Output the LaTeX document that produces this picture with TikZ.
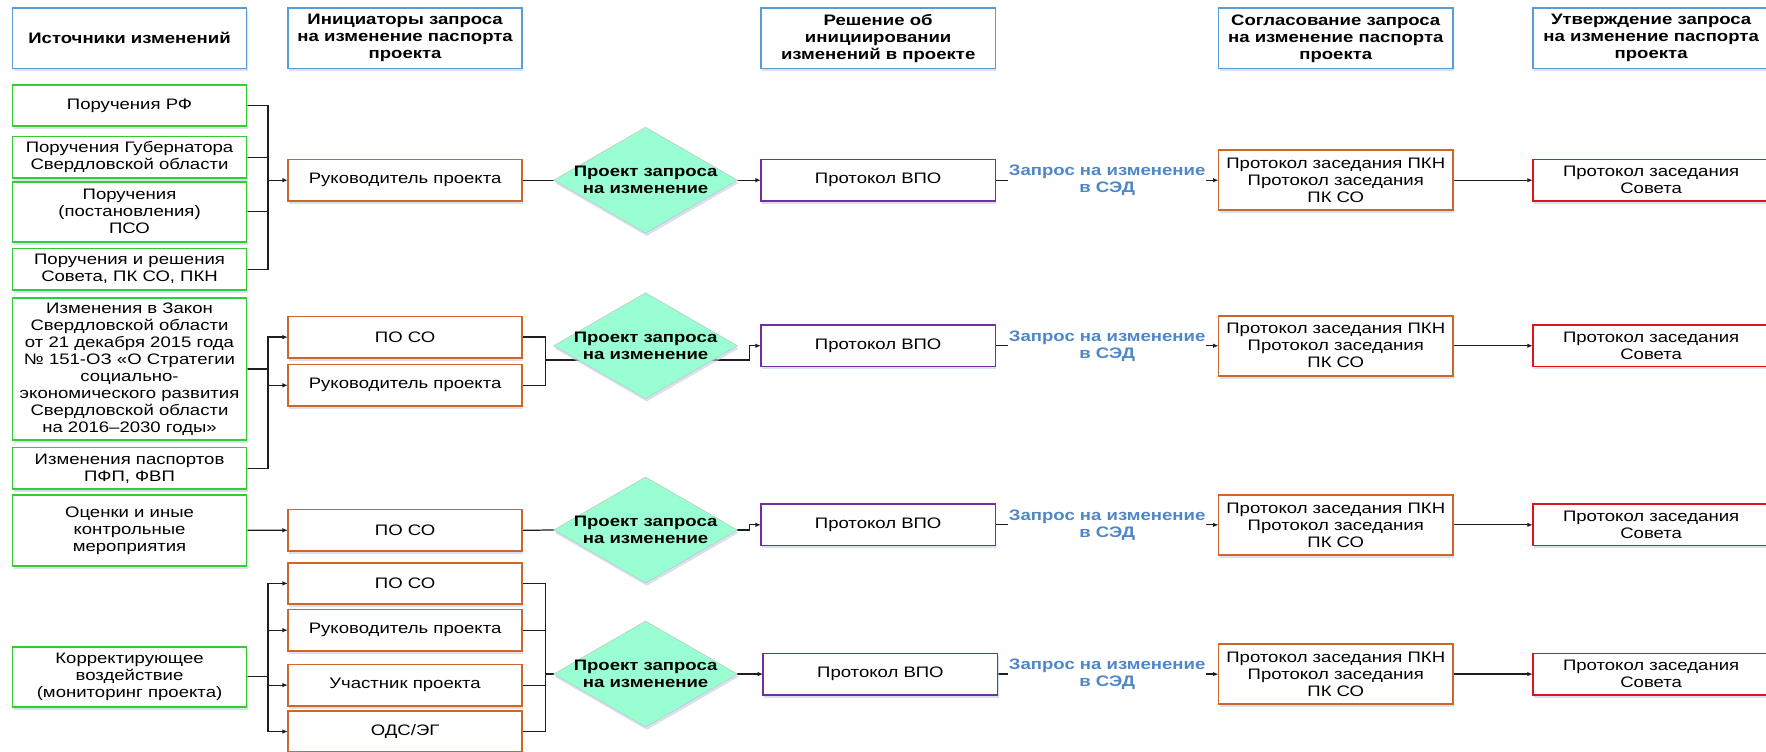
\documentclass[tikz,border=0pt]{standalone}
\usepackage{fontspec}
\setmainfont[FakeStretch=1.22]{Liberation Sans}
\usetikzlibrary{arrows.meta,shapes.geometric,backgrounds,shadows}

\definecolor{hdrblue}{RGB}{91,155,213}
\definecolor{srcgreen}{RGB}{51,204,51}
\definecolor{iniorange}{RGB}{204,102,41}
\definecolor{vpopurple}{RGB}{112,48,160}
\definecolor{sovred}{RGB}{220,20,30}
\definecolor{dmint}{RGB}{153,255,210}
\definecolor{dborder}{RGB}{190,205,198}
\definecolor{lblblue}{RGB}{79,134,198}
\definecolor{connc}{RGB}{30,30,30}
\definecolor{shadowc}{RGB}{190,205,230}

\begin{document}
\begin{tikzpicture}[x=1pt,y=-1pt,
  every node/.style={font=\fontsize{13.5}{15.1}\selectfont, align=center, inner sep=1pt, outer sep=0pt},
  shad/.style={drop shadow={shadow xshift=1pt, shadow yshift=-2.5pt, fill=shadowc, opacity=0.6}},
  boxbase/.style={draw, fill=white, line width=1.4pt, minimum width=208pt, minimum height=36.7pt, shad},
  hdr/.style={boxbase, draw=hdrblue, minimum height=53.3pt, font=\fontsize{13.5}{15.1}\selectfont\bfseries},
  src/.style={boxbase, draw=srcgreen},
  ini/.style={boxbase, draw=iniorange},
  vpo/.style={boxbase, draw=vpopurple},
  kom/.style={boxbase, draw=iniorange, minimum height=53.3pt},
  sov/.style={boxbase, draw=sovred, minimum width=210pt},
  dia/.style={diamond, fill=dmint, draw=dborder, line width=0.6pt, minimum width=163pt, minimum height=94pt, inner sep=0pt, shad},
  dlab/.style={font=\fontsize{13.5}{15.1}\selectfont\bfseries, align=center},
  req/.style={font=\fontsize{13.5}{15.1}\selectfont\bfseries, text=lblblue, inner sep=1pt},
  conn/.style={draw=connc, line width=1.1pt},
  arr/.style={conn, -{Latex[length=5pt,width=4pt]}},
]
\useasboundingbox (0,0) rectangle (1568,667);

% headers
\node[hdr] (h1) at (115,34) {Источники изменений};
\node[hdr] (h2) at (359.7,34) {Инициаторы запроса\\на изменение паспорта\\проекта};
\node[hdr] (h3) at (779.7,34) {Решение об\\инициировании\\изменений в проекте};
\node[hdr] (h4) at (1186,34) {Согласование запроса\\на изменение паспорта\\проекта};
\node[hdr, minimum width=210pt] (h5) at (1466,34) {Утверждение запроса\\на изменение паспорта\\проекта};

% sources
\node[src] (s1) at (115,93.7) {Поручения РФ};
\node[src] (s2) at (115,139.6) {Поручения Губернатора\\Свердловской области};
\node[src, minimum height=53.3pt] (s3) at (115,188) {Поручения\\(постановления)\\ПСО};
\node[src] (s4) at (115,239) {Поручения и решения\\Совета, ПК СО, ПКН};
\node[src, minimum height=126.4pt] (s5) at (115,327.6) {Изменения в Закон\\Свердловской области\\от 21 декабря 2015 года\\№ 151-ОЗ «О Стратегии\\социально-\\экономического развития\\Свердловской области\\на 2016–2030 годы»};
\node[src] (s6) at (115,415.8) {Изменения паспортов\\ПФП, ФВП};
\node[src, minimum height=62.8pt] (s7) at (115,470.9) {Оценки и иные\\контрольные\\мероприятия};
\node[src, minimum height=53.3pt] (s8) at (115,600.9) {Корректирующее\\воздействие\\(мониторинг проекта)};

% initiators
\node[ini] (r1) at (359.7,160) {Руководитель проекта};
\node[ini] (p2) at (359.7,299.3) {ПО СО};
\node[ini] (r2) at (359.7,342.1) {Руководитель проекта};
\node[ini] (p3) at (359.7,470.8) {ПО СО};
\node[ini] (p4) at (359.7,518) {ПО СО};
\node[ini] (r4) at (359.7,559.5) {Руководитель проекта};
\node[ini] (u4) at (359.7,608.3) {Участник проекта};
\node[ini] (o4) at (359.7,649.5) {ОДС/ЭГ};

% diamonds
\node[dia, label={[dlab]center:{Проект запроса\\на изменение}}] (d1) at (573.2,160) {};
\node[dia, label={[dlab]center:{Проект запроса\\на изменение}}] (d2) at (573.2,307) {};
\node[dia, label={[dlab]center:{Проект запроса\\на изменение}}] (d3) at (573.2,470.6) {};
\node[dia, label={[dlab]center:{Проект запроса\\на изменение}}] (d4) at (573.2,598.5) {};

% VPO
\node[vpo] (v1) at (779.7,160) {Протокол ВПО};
\node[vpo] (v2) at (779.7,307) {Протокол ВПО};
\node[vpo] (v3) at (779.7,466) {Протокол ВПО};
\node[vpo] (v4) at (781.7,598.5) {Протокол ВПО};

% request labels
\node[req] (l1) at (983,160) {Запрос на изменение\\в СЭД};
\node[req] (l2) at (983,307) {Запрос на изменение\\в СЭД};
\node[req] (l3) at (983,466) {Запрос на изменение\\в СЭД};
\node[req] (l4) at (983,598.5) {Запрос на изменение\\в СЭД};

% agreement
\node[kom] (k1) at (1186,160) {Протокол заседания ПКН\\Протокол заседания\\ПК СО};
\node[kom] (k2) at (1186,307) {Протокол заседания ПКН\\Протокол заседания\\ПК СО};
\node[kom] (k3) at (1186,466) {Протокол заседания ПКН\\Протокол заседания\\ПК СО};
\node[kom] (k4) at (1186,598.5) {Протокол заседания ПКН\\Протокол заседания\\ПК СО};

% council
\node[sov] (c1) at (1466,160) {Протокол заседания\\Совета};
\node[sov] (c2) at (1466,307) {Протокол заседания\\Совета};
\node[sov] (c3) at (1466,466) {Протокол заседания\\Совета};
\node[sov] (c4) at (1466,598.5) {Протокол заседания\\Совета};

\begin{scope}[on background layer]
% row 1
\coordinate (b1) at (238,160);
\draw[conn] (s1.east) -| (b1);
\draw[conn] (s2.east) -| (b1);
\draw[conn] (s3.east) -| (b1);
\draw[conn] (s4.east) -| (b1);
\draw[arr] (b1) -- (r1.west);
\draw[conn] (r1.east) -- (d1.west);
\draw[arr] (d1.east) -- (v1.west);
\draw[conn] (v1.east) -- (l1.west);
\draw[arr] (l1.east) -- (k1.west);
\draw[arr] (k1.east) -- (c1.west);
% row 2
\coordinate (b2) at (238,299.3);
\draw[arr] (s6.east) -| (b2) -- (p2.west);
\draw[conn] (s5.east) -- (s5.east -| b2);
\draw[arr] (r2.west -| b2) -- (r2.west);
\coordinate (m2) at (484.2,319.7);
\draw[conn] (p2.east) -| (m2);
\draw[conn] (r2.east) -| (m2);
\draw[arr] (m2) -- ++(181.5,0) |- (v2.west);
\draw[conn] (v2.east) -- (l2.west);
\draw[arr] (l2.east) -- (k2.west);
\draw[arr] (k2.east) -- (c2.west);
% row 3
\draw[arr] (s7.east) -- (p3.west);
\draw[conn] (p3.east) -- (d3.west);
\draw[arr] (d3.east) -- ++(10.5,0) |- (v3.west);
\draw[conn] (v3.east) -- (l3.west);
\draw[arr] (l3.east) -- (k3.west);
\draw[arr] (k3.east) -- (c3.west);
% row 4
\coordinate (b4) at (238,518);
\draw[conn] (s8.east) -- (s8.east -| b4);
\draw[conn] (p4.west -| b4) -- (o4.west -| b4);
\draw[arr] (p4.west -| b4) -- (p4.west);
\draw[arr] (r4.west -| b4) -- (r4.west);
\draw[arr] (u4.west -| b4) -- (u4.west);
\draw[arr] (o4.west -| b4) -- (o4.west);
\coordinate (m4) at (484.2,598.5);
\draw[conn] (p4.east) -| (m4);
\draw[conn] (r4.east) -| (m4);
\draw[conn] (u4.east) -| (m4);
\draw[conn] (o4.east) -| (m4);
\draw[conn] (m4) -- (d4.west);
\draw[arr] (d4.east) -- (v4.west);
\draw[conn] (v4.east) -- (l4.west);
\draw[arr] (l4.east) -- (k4.west);
\draw[arr] (k4.east) -- (c4.west);
\end{scope}
\end{tikzpicture}
\end{document}
